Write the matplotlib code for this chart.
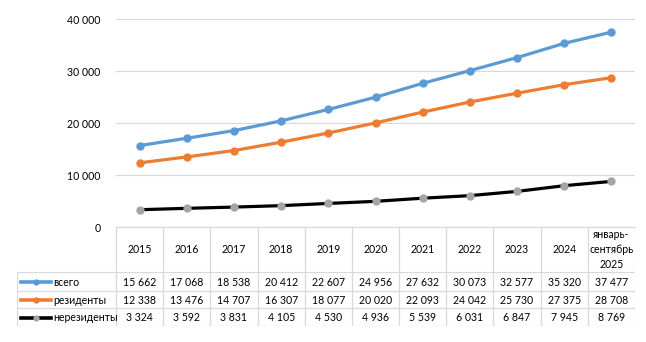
import matplotlib
matplotlib.use('Agg')
import matplotlib.pyplot as plt
from matplotlib.ticker import FuncFormatter

plt.rcParams['font.family'] = ['Lato', 'DejaVu Sans']

# categories and series
years = ['2015', '2016', '2017', '2018', '2019', '2020', '2021', '2022', '2023', '2024',
         'январь-\nсентябрь\n2025']
total = [15662, 17068, 18538, 20412, 22607, 24956, 27632, 30073, 32577, 35320, 37477]
residents = [12338, 13476, 14707, 16307, 18077, 20020, 22093, 24042, 25730, 27375, 28708]
nonresidents = [3324, 3592, 3831, 4105, 4530, 4936, 5539, 6031, 6847, 7945, 8769]
series_names = ['всего', 'резиденты', 'нерезиденты']

W, H = 646, 342
FS = 7.6
GRID = '#d9d9d9'


def fmt(v):
    return f'{v:,}'.replace(',', ' ')


fig = plt.figure(figsize=(W / 100, H / 100), dpi=100)

# plot area in pixels
left, right, top, bottom = 116, 635, 19, 227
ax = fig.add_axes([left / W, 1 - bottom / H, (right - left) / W, (bottom - top) / H])
xs = list(range(len(years)))
styles = [
    dict(color='#5b9bd5', mfc='#5b9bd5', mec='#5b9bd5'),
    dict(color='#ed7d31', mfc='#ed7d31', mec='#ed7d31'),
    dict(color='#000000', mfc='#a5a5a5', mec='#a5a5a5'),
]
for vals, st in zip([total, residents, nonresidents], styles):
    ax.plot(xs, vals, lw=2.3, marker='o', ms=5, solid_capstyle='round', zorder=3, **st)

ax.set_xlim(-0.5, len(years) - 0.5)
ax.set_ylim(0, 40000)
ax.set_yticks([0, 10000, 20000, 30000, 40000])
ax.yaxis.set_major_formatter(FuncFormatter(lambda v, p: fmt(int(v))))
ax.grid(axis='y', color=GRID, lw=0.9)
ax.set_axisbelow(True)
ax.set_xticks([])
ax.tick_params(axis='y', length=0, labelsize=FS, pad=11)
for s in ['top', 'right', 'left']:
    ax.spines[s].set_visible(False)
ax.spines['bottom'].set_color(GRID)

# data table below the plot area, x in category units, y in pixels
tleft, tbottom = 17, 326
col_w = (right - left) / len(years)
tab = fig.add_axes([tleft / W, 1 - tbottom / H, (right - tleft) / W, (tbottom - bottom) / H])
x0 = -0.5 - (left - tleft) / col_w
tab.set_xlim(x0, len(years) - 0.5)
tab.set_ylim(tbottom - bottom, 0)
tab.axis('off')

row_edges = [0, 45, 64, 81, 99]
lw = 0.9
# vertical lines of value columns
for i in range(len(years) + 1):
    tab.plot([i - 0.5, i - 0.5], [0, row_edges[-1]], color=GRID, lw=lw)
tab.plot([x0, x0], [row_edges[1], row_edges[-1]], color=GRID, lw=lw)
for y in row_edges[1:]:
    tab.plot([x0, len(years) - 0.5], [y, y], color=GRID, lw=lw)

for i, lab in enumerate(years):
    tab.text(i, row_edges[1] / 2, lab, ha='center', va='center', fontsize=FS, linespacing=1.45)

key_w = 30 / col_w
for r, (name, vals, st) in enumerate(zip(series_names, [total, residents, nonresidents], styles)):
    yc = (row_edges[r + 1] + row_edges[r + 2]) / 2 + 0.5
    # legend key: short line with a marker in the middle
    kx = [x0 + 4 / col_w, x0 + 4 / col_w + key_w / 2, x0 + 4 / col_w + key_w]
    tab.plot(kx, [yc] * 3, lw=2.6, marker='o', ms=3.5, markevery=[1], **st)
    tab.text(x0 + 36 / col_w, yc, name, ha='left', va='center', fontsize=FS)
    for i, v in enumerate(vals):
        tab.text(i, yc, fmt(v), ha='center', va='center', fontsize=FS)

fig.savefig('out.png', dpi=100)
